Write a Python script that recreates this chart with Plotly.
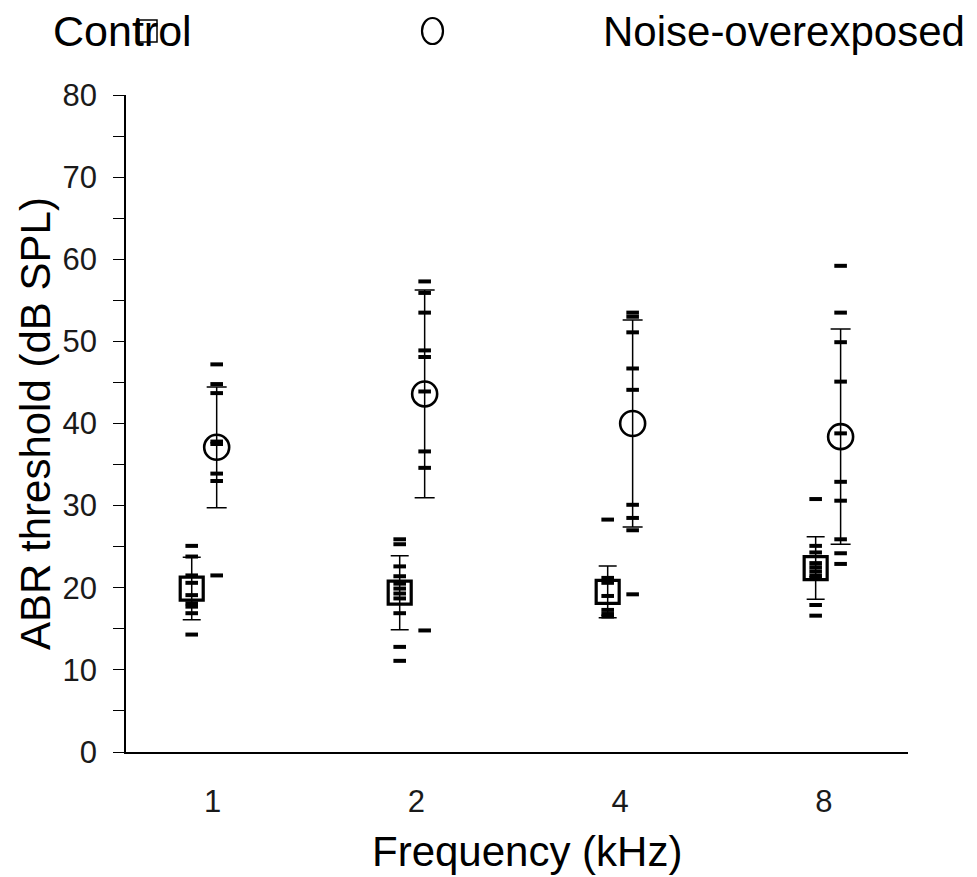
import plotly.graph_objects as go

# ---- data ----
frequencies = ["1", "2", "4", "8"]
control_mean = [19.9, 19.4, 19.5, 22.4]
control_sd = [3.8, 4.5, 3.15, 3.8]
noise_mean = [37.1, 43.6, 40.0, 38.4]
noise_sd = [7.35, 12.65, 12.6, 13.1]

control_1k = [25.1, 23.8, 21.5, 20.6, 19.1, 18.1, 17.7, 16.9, 14.3]
control_2k = [25.9, 25.3, 22.6, 21.4, 20.5, 19.9, 19.3, 18.7, 16.9, 12.8, 11.1]
control_4k = [28.3, 21.2, 20.6, 19.0, 17.3, 16.8, 16.5]
control_8k = [30.8, 25.1, 24.3, 23.0, 22.5, 22.0, 21.5, 21.2, 17.9, 16.6]
noise_1k = [47.2, 44.8, 43.7, 37.8, 37.5, 33.9, 33.0, 21.5]
noise_2k = [57.3, 55.9, 53.5, 48.9, 48.1, 43.9, 36.6, 34.6, 14.8]
noise_4k = [53.5, 53.0, 51.1, 46.7, 44.1, 30.1, 28.5, 27.0, 19.2]
noise_8k = [59.2, 53.5, 49.9, 45.1, 38.8, 32.9, 30.6, 25.9, 24.2, 22.9]

y_ticks = [0, 10, 20, 30, 40, 50, 60, 70, 80]

control_points = [control_1k, control_2k, control_4k, control_8k]
noise_points = [noise_1k, noise_2k, noise_4k, noise_8k]

# ---- geometry / style ----
PAGE_OFF = 8  # default body margin of the html page
W, H = 977 - PAGE_OFF, 877 - PAGE_OFF
L, R, T, B = 118, 69, 87, 125
PW, PH = W - L - R, H - T - B
OFF = 0.06
FONT = "Arial, Liberation Sans, sans-serif"
TICK_COLOR = "#1a1a1a"


def px(xp):
    return (xp - PAGE_OFF - L) / PW


def py(yp):
    return (H - B - (yp - PAGE_OFF)) / PH


idx = list(range(len(frequencies)))
cx = [i - OFF for i in idx]
nx = [i + OFF for i in idx]

fig = go.Figure()

fig.add_trace(go.Scatter(
    x=cx, y=control_mean, mode="markers",
    marker=dict(symbol="square-open", size=23, color="black",
                line=dict(width=3.2, color="black")),
    error_y=dict(type="data", array=control_sd, color="black",
                 thickness=1.5, width=9),
    showlegend=False))

fig.add_trace(go.Scatter(
    x=nx, y=noise_mean, mode="markers",
    marker=dict(symbol="circle-open", size=25, color="black",
                line=dict(width=2.6, color="black")),
    error_y=dict(type="data", array=noise_sd, color="black",
                 thickness=1.5, width=10),
    showlegend=False))

dash_x, dash_y = [], []
for i, pts in enumerate(control_points):
    dash_x += [cx[i]] * len(pts)
    dash_y += pts
for i, pts in enumerate(noise_points):
    dash_x += [nx[i]] * len(pts)
    dash_y += pts

fig.add_trace(go.Scatter(
    x=dash_x, y=dash_y, mode="markers",
    marker=dict(symbol="line-ew", size=9, color="black",
                line=dict(width=4, color="black")),
    showlegend=False))

fig.update_layout(
    width=W, height=H,
    margin=dict(l=L, r=R, t=T, b=B, autoexpand=False),
    paper_bgcolor="white", plot_bgcolor="white",
    font=dict(family=FONT, color="black"),
    xaxis=dict(
        range=[-0.376, 3.384], showgrid=False, zeroline=False,
        showline=True, linecolor="black", linewidth=1.5,
        tickmode="array", tickvals=[0.04, 1.02, 2.0, 2.98],
        ticktext=frequencies, ticks="", ticklabelstandoff=21,
        tickfont=dict(size=31, family=FONT, color=TICK_COLOR),
    ),
    yaxis=dict(
        range=[0, 80], showgrid=False, zeroline=False,
        showline=True, linecolor="black", linewidth=1.5,
        tickmode="array", tickvals=y_ticks,
        ticks="outside", ticklen=11, tickwidth=1.2, tickcolor="black",
        ticklabelstandoff=10,
        minor=dict(tickmode="array", tickvals=[5, 15, 25, 35, 45, 55, 65, 75],
                   ticks="outside", ticklen=11, tickwidth=1.2, tickcolor="black"),
        tickfont=dict(size=31, family=FONT, color=TICK_COLOR),
    ),
    annotations=[
        dict(text="ABR threshold (dB SPL)", xref="paper", yref="paper",
             x=px(35), y=py(424), textangle=-90, showarrow=False,
             xanchor="center", yanchor="middle",
             font=dict(size=42, family=FONT, color="black")),
        dict(text="Frequency (kHz)", xref="paper", yref="paper",
             x=px(527), y=py(851), showarrow=False,
             xanchor="center", yanchor="middle",
             font=dict(size=42, family=FONT, color="black")),
        dict(text="Control", xref="paper", yref="paper",
             x=px(51), y=py(31), showarrow=False,
             xanchor="left", yanchor="middle",
             font=dict(size=43, family=FONT, color="black")),
        dict(text="Noise-overexposed", xref="paper", yref="paper",
             x=px(967), y=py(31), showarrow=False,
             xanchor="right", yanchor="middle",
             font=dict(size=42, family=FONT, color="black")),
    ],
    shapes=[
        dict(type="rect", xref="paper", yref="paper",
             x0=px(139), x1=px(157), y0=py(42), y1=py(20),
             line=dict(color="black", width=1.5)),
        dict(type="circle", xref="paper", yref="paper",
             x0=px(422), x1=px(443), y0=py(44), y1=py(18),
             line=dict(color="black", width=2.2)),
    ],
)

fig.write_html("out.html")
